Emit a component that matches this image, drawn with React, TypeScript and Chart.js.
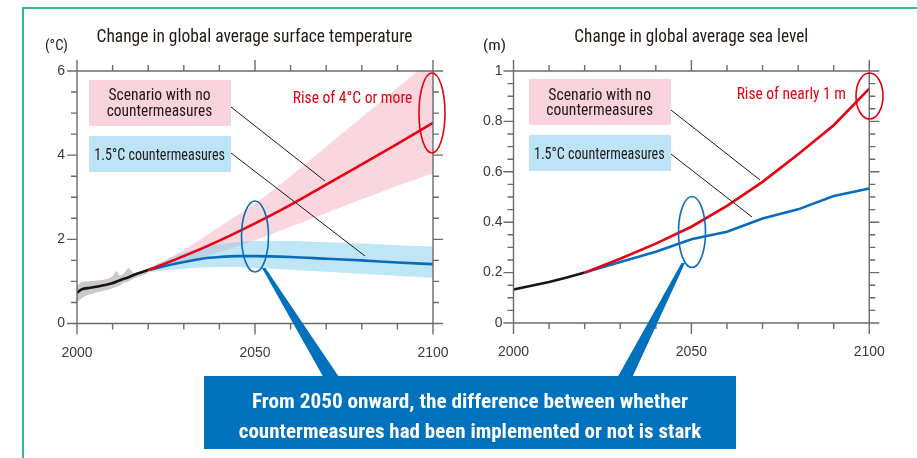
import React, { useEffect, useRef } from 'react';
import { Chart, registerables } from 'chart.js';

Chart.register(...registerables);

const NARROW = "'Liberation Sans Narrow', 'Arial Narrow', 'Roboto Condensed', 'DejaVu Sans Condensed', sans-serif";
const SANS = "'Liberation Sans', Arial, Helvetica, sans-serif";
const RED = '#e60012';
const BLUE = '#0a6cb9';
const CALLOUT = '#0071bc';
const AXIS = '#6b6b6b';
const TEXT = '#3a3a3a';
const DARK = '#231815';
const FRAME = '#34b98c';

// ---- Temperature chart data ----
const tempObsYears = [2000, 2001.3, 2003.7, 2006.5, 2009.8, 2012.1, 2014.5, 2016.8, 2020];
const tempObs = [0.73, 0.81, 0.85, 0.89, 0.955, 1.03, 1.1, 1.18, 1.27];
const tempObsBandYears = [2000, 2001.3, 2003, 2004, 2006.5, 2009, 2010, 2011, 2012, 2013, 2014.5, 2016, 2018, 2020];
const tempObsUpper = [0.88, 0.99, 1.0, 1.01, 1.03, 1.07, 1.12, 1.25, 1.14, 1.18, 1.32, 1.2, 1.23, 1.28];
const tempObsLower = [0.52, 0.6, 0.68, 0.7, 0.76, 0.81, 0.84, 0.87, 0.9, 0.96, 1.0, 1.07, 1.13, 1.2];
const projYears = [2020, 2030, 2040, 2050, 2060, 2070, 2080, 2090, 2100];
const tempNoMeasures = [1.27, 1.6, 1.97, 2.38, 2.82, 3.3, 3.78, 4.27, 4.77];
const tempNoMeasuresUpper = [1.3, 1.75, 2.3, 2.85, 3.5, 4.2, 4.9, 5.6, 6.3];
const tempNoMeasuresLower = [1.25, 1.45, 1.7, 1.98, 2.3, 2.62, 2.95, 3.27, 3.57];
const temp15Years = [2020, 2025, 2030, 2035, 2040, 2045, 2050, 2060, 2070, 2080, 2090, 2100];
const temp15 = [1.27, 1.37, 1.46, 1.54, 1.58, 1.6, 1.6, 1.58, 1.54, 1.5, 1.45, 1.41];
const temp15Upper = [1.3, 1.68, 1.88, 1.96, 1.96, 1.93, 1.9, 1.86, 1.83];
const temp15Lower = [1.22, 1.3, 1.34, 1.32, 1.28, 1.23, 1.18, 1.13, 1.09];

// ---- Sea level chart data ----
const seaObsYears = [2000, 2005, 2010, 2015, 2020];
const seaObs = [0.133, 0.148, 0.163, 0.181, 0.2];
const seaNoMeasures = [0.2, 0.255, 0.315, 0.382, 0.465, 0.56, 0.67, 0.785, 0.93];
const sea15 = [0.2, 0.242, 0.283, 0.332, 0.362, 0.415, 0.451, 0.504, 0.534];

// ---- Ticks ----
const yearMajorTicks = [2000, 2050, 2100];
const yearMinorTicks = [2000, 2010, 2020, 2030, 2040, 2050, 2060, 2070, 2080, 2090, 2100];
const tempMajorTicks = [0, 2, 4, 6];
const tempMinorTicks = [0, 0.5, 1, 1.5, 2, 2.5, 3, 3.5, 4, 4.5, 5, 5.5, 6];
const seaMajorTicks = [0, 0.2, 0.4, 0.6, 0.8, 1];
const seaMinorTicks = [0, 0.05, 0.1, 0.15, 0.2, 0.25, 0.3, 0.35, 0.4, 0.45, 0.5, 0.55, 0.6, 0.65, 0.7, 0.75, 0.8, 0.85, 0.9, 0.95, 1];

// ---- Texts ----
const tempTitle = 'Change in global average surface temperature';
const seaTitle = 'Change in global average sea level';
const tempUnit = '(°C)';
const seaUnit = '(m)';
const noMeasuresLabel = ['Scenario with no', 'countermeasures'];
const measuresLabel = '1.5°C countermeasures';
const tempRiseLabel = 'Rise of 4°C or more';
const seaRiseLabel = 'Rise of nearly 1 m';
const calloutLines = [
  'From 2050 onward, the difference between whether',
  'countermeasures had been implemented or not is stark',
];

const pts = (xs: number[], ys: number[]) => xs.map((x, i) => ({ x, y: ys[i] }));

const frameTicks = {
  id: 'frameTicks',
  afterDatasetsDraw(chart: any, _args: any, opts: any) {
    const { ctx, chartArea, scales } = chart;
    const { left, right, top, bottom } = chartArea;
    const x = scales.x;
    const y = scales.y;
    const isMajor = (v: number, list: number[]) => list.some((m) => Math.abs(m - v) < 1e-9);
    ctx.save();
    ctx.strokeStyle = AXIS;
    ctx.lineWidth = 1.4;
    ctx.beginPath();
    ctx.rect(left, top, right - left, bottom - top);
    opts.xMinor.forEach((v: number) => {
      const px = x.getPixelForValue(v);
      const len = isMajor(v, opts.xMajor) ? 11 : 6;
      ctx.moveTo(px, bottom);
      ctx.lineTo(px, bottom + len);
      ctx.moveTo(px, top);
      ctx.lineTo(px, top - len);
    });
    opts.yMinor.forEach((v: number) => {
      const py = y.getPixelForValue(v);
      const len = isMajor(v, opts.yMajor) ? 10 : 6;
      ctx.moveTo(left, py);
      ctx.lineTo(left - len, py);
      ctx.moveTo(right, py);
      ctx.lineTo(right + len, py);
    });
    ctx.stroke();
    ctx.restore();
  },
};

const lineDs = (data: any[], color: string, width: number, order: number, smooth = true) => ({
  data,
  borderColor: color,
  borderWidth: width,
  pointRadius: 0,
  fill: false,
  order,
  tension: smooth ? 0.4 : 0,
  cubicInterpolationMode: smooth ? 'monotone' : 'default',
});

const bandTop = (data: any[], color: string, order: number, tension = 0.4) => ({
  data,
  borderWidth: 0,
  borderColor: 'rgba(0,0,0,0)',
  backgroundColor: color,
  pointRadius: 0,
  fill: '+1',
  order,
  tension,
});

const bandBottom = (data: any[], order: number, tension = 0.4) => ({
  data,
  borderWidth: 0,
  borderColor: 'rgba(0,0,0,0)',
  pointRadius: 0,
  fill: false,
  order,
  tension,
});

function makeOptions(
  yMin: number,
  yMax: number,
  yMajor: number[],
  yMinor: number[],
  padding: any,
  yPad: number
) {
  return {
    responsive: false,
    maintainAspectRatio: false,
    animation: false,
    events: [],
    layout: { padding },
    plugins: {
      legend: { display: false },
      tooltip: { enabled: false },
      title: { display: false },
      frameTicks: { xMajor: yearMajorTicks, xMinor: yearMinorTicks, yMajor, yMinor },
    },
    scales: {
      x: {
        type: 'linear',
        min: 2000,
        max: 2100,
        afterBuildTicks: (s: any) => {
          s.ticks = yearMajorTicks.map((value) => ({ value }));
        },
        afterFit: (s: any) => {
          s.height = 50;
        },
        ticks: {
          color: TEXT,
          font: { family: SANS, size: 14 },
          padding: 21,
          maxRotation: 0,
          callback: (v: any) => String(v),
        },
        grid: { display: false, drawTicks: false },
        border: { display: false },
      },
      y: {
        type: 'linear',
        min: yMin,
        max: yMax,
        afterBuildTicks: (s: any) => {
          s.ticks = yMajor.map((value) => ({ value }));
        },
        afterFit: (s: any) => {
          s.width = 45;
        },
        ticks: {
          color: TEXT,
          font: { family: SANS, size: 14 },
          padding: yPad,
          callback: (v: any) => String(+Number(v).toFixed(2)),
        },
        grid: { display: false, drawTicks: false },
        border: { display: false },
      },
    },
  };
}

export default function App() {
  const tempRef = useRef<HTMLCanvasElement>(null);
  const seaRef = useRef<HTMLCanvasElement>(null);

  useEffect(() => {
    const tempChart = new Chart(tempRef.current as HTMLCanvasElement, {
      type: 'line',
      data: {
        datasets: [
          lineDs(pts(projYears, tempNoMeasures), RED, 2.6, 1),
          lineDs(pts(temp15Years, temp15), BLUE, 2.6, 2),
          lineDs(pts(tempObsYears, tempObs), '#1a1311', 2.6, 3),
          bandTop(pts(tempObsBandYears, tempObsUpper), 'rgba(150,150,150,0.5)', 4, 0.2),
          bandBottom(pts(tempObsBandYears, tempObsLower), 4.5, 0.2),
          bandTop(pts(projYears, temp15Upper), 'rgba(125,205,240,0.5)', 5),
          bandBottom(pts(projYears, temp15Lower), 6),
          bandTop(pts(projYears, tempNoMeasuresUpper), 'rgba(240,140,165,0.36)', 7),
          bandBottom(pts(projYears, tempNoMeasuresLower), 8),
        ] as any,
      },
      options: makeOptions(0, 6, tempMajorTicks, tempMinorTicks, { left: 32, right: 47, top: 71, bottom: 84.5 }, 12) as any,
      plugins: [frameTicks],
    });

    const seaChart = new Chart(seaRef.current as HTMLCanvasElement, {
      type: 'line',
      data: {
        datasets: [
          lineDs(pts(projYears, seaNoMeasures), RED, 2.6, 1, false),
          lineDs(pts(projYears, sea15), BLUE, 2.6, 2, false),
          lineDs(pts(seaObsYears, seaObs), '#1a1311', 2.6, 3, false),
        ] as any,
      },
      options: makeOptions(0, 1, seaMajorTicks, seaMinorTicks, { left: 8.5, right: 47.7, top: 71, bottom: 85 }, 11) as any,
      plugins: [frameTicks],
    });

    return () => {
      tempChart.destroy();
      seaChart.destroy();
    };
  }, []);

  const txt = (x: number, y: number, s: string, size: number, fill: string, len: number, extra: any = {}) => (
    <text
      x={x}
      y={y}
      textAnchor="middle"
      dominantBaseline="central"
      textLength={len}
      lengthAdjust="spacingAndGlyphs"
      style={{ fontFamily: NARROW, fontSize: size, fill, ...extra }}
    >
      {s}
    </text>
  );

  return (
    <div style={{ position: 'fixed', left: 0, top: 0, width: 917, height: 458, background: '#fff', overflow: 'hidden' }}>
      <canvas ref={tempRef} width={480} height={458} style={{ position: 'absolute', left: 0, top: 0, width: 480, height: 458 }} />
      <canvas ref={seaRef} width={457} height={458} style={{ position: 'absolute', left: 460, top: 0, width: 457, height: 458 }} />
      <svg width={917} height={458} style={{ position: 'absolute', left: 0, top: 0, pointerEvents: 'none' }}>
        {/* page frame */}
        <line x1={22} y1={8} x2={917} y2={8} stroke={FRAME} strokeWidth={2} />
        <line x1={23} y1={7} x2={23} y2={458} stroke={FRAME} strokeWidth={2} />

        {/* titles and units */}
        {txt(254.5, 35.5, tempTitle, 18, DARK, 316)}
        {txt(691.3, 35.5, seaTitle, 18, DARK, 234)}
        {txt(56.5, 45, tempUnit, 15.5, DARK, 23)}
        {txt(494.5, 45, seaUnit, 15.5, DARK, 23)}

        {/* left annotations */}
        <rect x={89} y={80} width={142} height={46} fill="#f8d3de" />
        {txt(159.5, 94.5, noMeasuresLabel[0], 16, DARK, 102)}
        {txt(159.5, 110, noMeasuresLabel[1], 16, DARK, 105.7)}
        <rect x={89} y={136} width={142} height={36} fill="#bce4f6" />
        {txt(159.7, 154.5, measuresLabel, 16, DARK, 130.7)}
        <line x1={231} y1={107} x2={325} y2={181} stroke={DARK} strokeWidth={1} />
        <line x1={231} y1={153} x2={365} y2={256} stroke={DARK} strokeWidth={1} />
        {txt(352.5, 97, tempRiseLabel, 16, RED, 119.6)}
        <ellipse cx={432} cy={113} rx={13} ry={40} fill="none" stroke={RED} strokeWidth={1.6} />
        <ellipse cx={255} cy={236.5} rx={13.5} ry={35.5} fill="none" stroke={BLUE} strokeWidth={1.6} />

        {/* right annotations */}
        <rect x={529} y={79} width={142} height={46} fill="#f8d3de" />
        {txt(599.7, 94, noMeasuresLabel[0], 16, DARK, 102.7)}
        {txt(599.7, 109.5, noMeasuresLabel[1], 16, DARK, 106.7)}
        <rect x={529} y={135} width={142} height={36} fill="#bce4f6" />
        {txt(599.3, 153.5, measuresLabel, 16, DARK, 130.7)}
        <line x1={671} y1={110} x2={760} y2={180} stroke={DARK} strokeWidth={1} />
        <line x1={671} y1={154} x2={752} y2={217} stroke={DARK} strokeWidth={1} />
        {txt(791.3, 93, seaRiseLabel, 16, RED, 109.3)}
        <ellipse cx={869.5} cy={96} rx={13.5} ry={23} fill="none" stroke={RED} strokeWidth={1.6} />
        <ellipse cx={692} cy={232} rx={13.5} ry={35.5} fill="none" stroke={BLUE} strokeWidth={1.6} />

        {/* callout */}
        <polygon points="262,268 265.5,268 341,380 325,380" fill={CALLOUT} />
        <polygon points="681.5,263 685,263 631,380 616,380" fill={CALLOUT} />
        <rect x={204} y={376} width={532} height={73} fill={CALLOUT} />
        {txt(470, 400.5, calloutLines[0], 21, '#fff', 436, { fontWeight: 'bold' })}
        {txt(470, 431, calloutLines[1], 21, '#fff', 462.5, { fontWeight: 'bold' })}
      </svg>
    </div>
  );
}
